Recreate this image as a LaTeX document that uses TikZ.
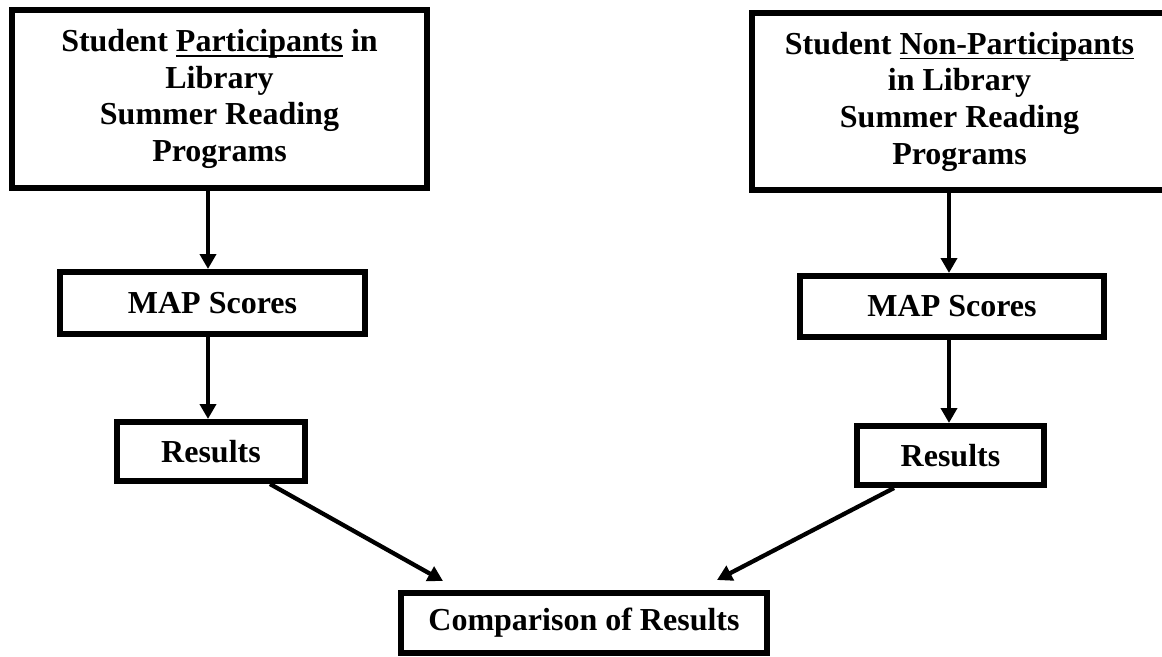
\documentclass[tikz,border=0pt]{standalone}
\usepackage{fontspec}
\setmainfont{Liberation Serif}
\usetikzlibrary{arrows.meta}
% word-style underline that crosses the descenders
\newcommand\undr[1]{\setbox0\hbox{#1}\rlap{\rule[-5pt]{\wd0}{1.4pt}}#1}
\begin{document}
\begin{tikzpicture}[x=1pt,y=-1pt,
  box/.style={draw,line width=6pt,inner sep=0pt,align=center,
              font=\fontsize{32}{36.7}\selectfont\bfseries},
  arr/.style={line width=4.3pt,-{Triangle[length=15pt,width=16pt]}}]
\useasboundingbox (0,0) rectangle (1162,656);

% participants branch
\node[box,minimum width=415pt,minimum height=178pt] (ptcp) at (219.5,99)
  {Student \undr{Participants} in\\Library\\Summer Reading\\Programs};
\node[box,minimum width=305pt,minimum height=62pt] (mapL) at (212.5,303) {MAP Scores};
\node[box,minimum width=188pt,minimum height=59pt] (resL) at (211,451.5) {Results};

% non-participants branch
\node[box,minimum width=415pt,minimum height=177pt] (nonp) at (959.5,101.5)
  {Student \undr{Non-Participants}\\in Library\\Summer Reading\\Programs};
\node[box,minimum width=304pt,minimum height=61pt] (mapR) at (952,306.5) {MAP Scores};
\node[box,minimum width=187pt,minimum height=59pt] (resR) at (950.5,455.5) {Results};

% joint comparison
\node[box,minimum width=366pt,minimum height=60pt] (cmp) at (584,623) {Comparison of Results};
\coordinate (tipL) at ([xshift=45pt,yshift=9pt]cmp.north west);
\coordinate (tipR) at ([xshift=-53pt,yshift=10pt]cmp.north east);

% connectors
\draw[arr] ([xshift=-11.5pt]ptcp.south) -- ([xshift=-4.5pt]mapL.north);
\draw[arr] ([xshift=-4.5pt]mapL.south) -- ([xshift=-3pt]resL.north);
\draw[arr] ([xshift=-10.5pt]nonp.south) -- ([xshift=-3pt]mapR.north);
\draw[arr] ([xshift=-3pt]mapR.south) -- ([xshift=-1.5pt]resR.north);
\draw[arr] ([xshift=-38pt]resL.south east) -- (tipL);
\draw[arr] ([xshift=40pt]resR.south west) -- (tipR);
\end{tikzpicture}
\end{document}
